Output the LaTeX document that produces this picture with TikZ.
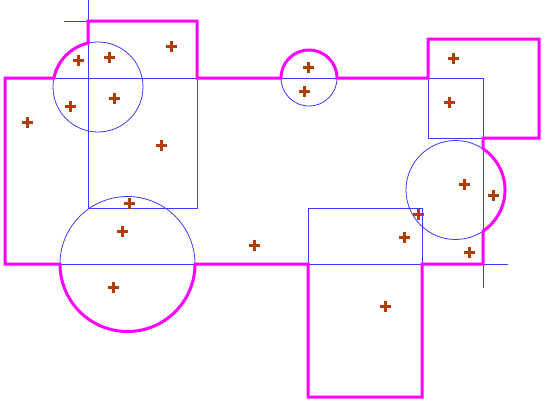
\documentclass[tikz,border=0pt]{standalone}
\definecolor{edgeblue}{HTML}{3B3BFF}
\definecolor{bndmag}{HTML}{FF00FF}
\definecolor{markbrown}{HTML}{B33C00}
\tikzset{
  inner/.style={draw=edgeblue, line width=0.8pt},
  bnd/.style={draw=bndmag, line width=3pt, line join=miter},
  crossmark/.pic={\draw[markbrown, line width=3pt] (-5.5,0) -- (5.5,0) (0,-5.5) -- (0,5.5);}
}
\begin{document}
\begin{tikzpicture}[x=1pt, y=-1pt]
\useasboundingbox (0,0) rectangle (547,405);
% shape outlines (thin blue)
\draw[inner] (5,78) rectangle (483,264);
\draw[inner] (88,21) rectangle (197,208);
\draw[inner] (428,39) rectangle (539,138);
\draw[inner] (308,208) rectangle (422,397);
\draw[inner] (98,87) circle[radius=45];
\draw[inner] (309,78) circle[radius=28];
\draw[inner] (455.5,190) circle[radius=49.5];
\draw[inner] (127.5,264) circle[radius=67.5];
% corner extension lines
\coordinate (tlc) at (88,21);
\coordinate (tlx) at (64,21);
\coordinate (tly) at (88,0);
\coordinate (brc) at (483,264);
\coordinate (brx) at (508,264);
\coordinate (bry) at (483,288);
\draw[inner] (tlx) -- (tlc) -- (tly);
\draw[inner] (brx) -- (brc) -- (bry);
% union boundary (magenta)
\draw[bnd] (5,264) -- (5,78) -- (53.9,78)
  arc[start angle=191.5, end angle=257.2, radius=45]
  -- (88,21) -- (197,21) -- (197,78) -- (281,78)
  arc[start angle=180, end angle=360, radius=28]
  -- (428,78) -- (428,39) -- (539,39) -- (539,138) -- (483,138) -- (483,148.8)
  arc[start angle=-56.3, end angle=56.3, radius=49.5]
  -- (483,264) -- (422,264) -- (422,397) -- (308,397) -- (308,264) -- (195,264)
  arc[start angle=0, end angle=180, radius=67.5]
  -- cycle;
% points
\foreach \px/\py in {78/60,109/57,171/46,114/98,70/106,27/122,161/145,129/203,
  122/231,113/287,254/245,308/67,304/91,453/58,449/102,464/184,493/195,418/214,
  404/237,469/252,385/306}
  \pic at (\px,\py) {crossmark};
\end{tikzpicture}
\end{document}
